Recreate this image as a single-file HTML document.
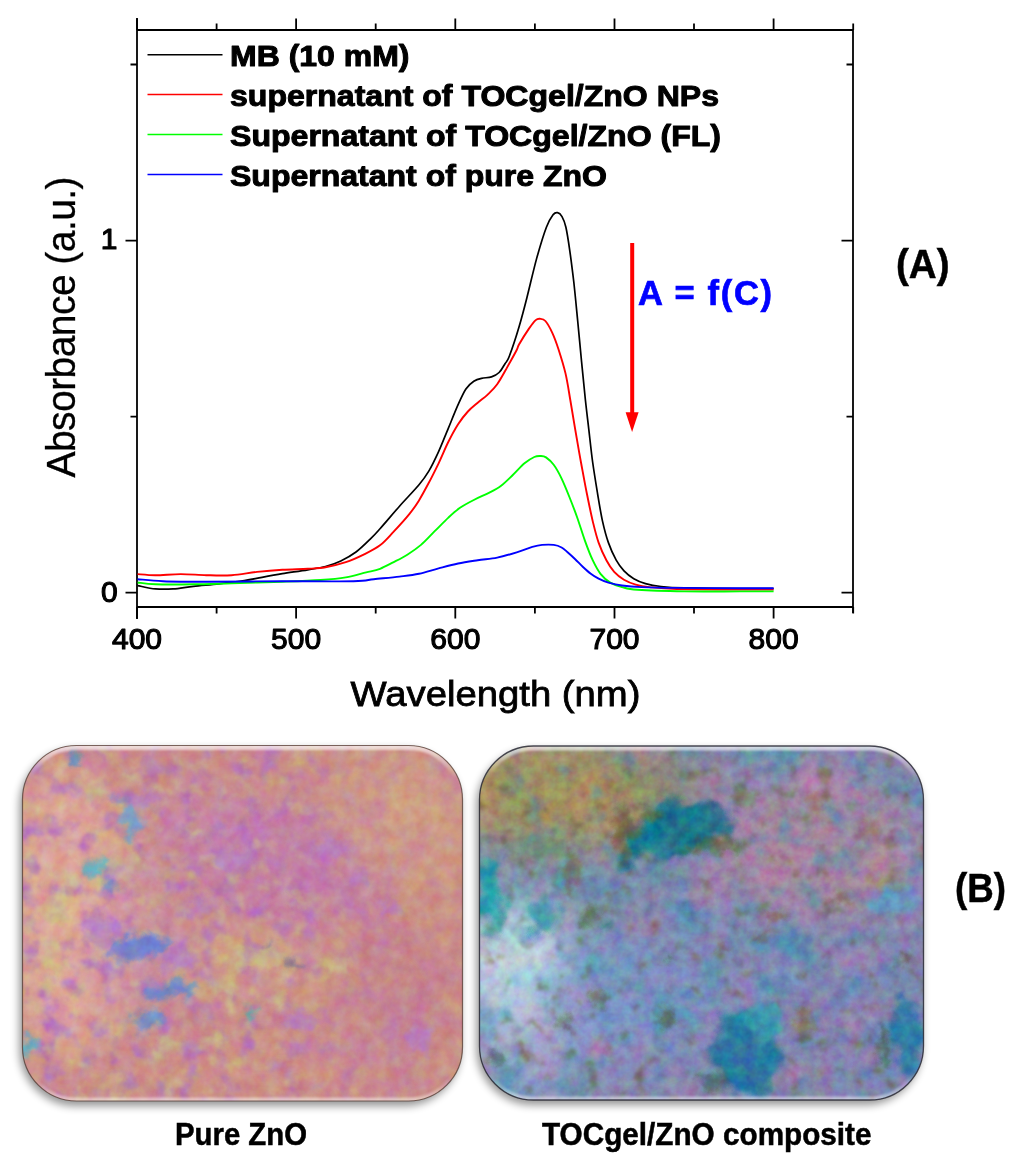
<!DOCTYPE html>
<html><head><meta charset="utf-8"><title>Figure</title>
<style>
html,body{margin:0;padding:0;background:#fff}
body{width:1024px;height:1170px;overflow:hidden}
svg{display:block}
text{font-family:"Liberation Sans",sans-serif;fill:#000}
.tick text{font-size:30px;stroke:#000;stroke-width:1.15px;stroke-linejoin:round}
.leg text{font-size:29.8px;font-weight:bold;stroke:#000;stroke-width:1px;stroke-linejoin:round}
.cap text{font-weight:bold;stroke:#000;stroke-width:.5px}
</style></head><body>
<svg width="1024" height="1170" viewBox="0 0 1024 1170">
<defs>

<clipPath id="cl"><rect x="22.5" y="745.5" width="440" height="355.5" rx="54"/></clipPath>
<clipPath id="cr"><rect x="479.5" y="746" width="444" height="354" rx="54"/></clipPath>
<filter id="sh" x="-10%" y="-10%" width="120%" height="125%"><feGaussianBlur stdDeviation="4"/></filter>
<filter id="b25" x="-30%" y="-30%" width="160%" height="160%"><feGaussianBlur stdDeviation="22"/></filter>
<filter id="b3" x="-5%" y="-5%" width="110%" height="110%"><feGaussianBlur stdDeviation="1.3"/></filter>
<filter id="rag" x="-10%" y="-10%" width="120%" height="120%" color-interpolation-filters="sRGB">
<feGaussianBlur stdDeviation="4" result="bl"/>
<feTurbulence type="fractalNoise" baseFrequency="0.035" numOctaves="3" seed="4" result="t"/>
<feDisplacementMap in="bl" in2="t" scale="34" xChannelSelector="R" yChannelSelector="G"/>
</filter>
<filter id="rag2" x="-10%" y="-10%" width="120%" height="120%" color-interpolation-filters="sRGB">
<feGaussianBlur stdDeviation="3.2" result="bl"/>
<feTurbulence type="fractalNoise" baseFrequency="0.06" numOctaves="3" seed="9" result="t"/>
<feDisplacementMap in="bl" in2="t" scale="22" xChannelSelector="G" yChannelSelector="B"/>
</filter>
<filter id="pf" x="0" y="0" width="100%" height="100%" color-interpolation-filters="sRGB">
<feTurbulence type="fractalNoise" baseFrequency="0.05" numOctaves="3" seed="3"/>
<feColorMatrix type="matrix" values="0 0 0 0 .68  0 0 0 0 .44  0 0 0 0 .76  4 0 0 0 -2.05"/>
<feGaussianBlur stdDeviation="1.3"/>
</filter>
<filter id="yf" x="0" y="0" width="100%" height="100%" color-interpolation-filters="sRGB">
<feTurbulence type="fractalNoise" baseFrequency="0.055" numOctaves="3" seed="14"/>
<feColorMatrix type="matrix" values="0 0 0 0 .80  0 0 0 0 .76  0 0 0 0 .54  0 4 0 0 -2.25"/>
<feGaussianBlur stdDeviation="1.3"/>
</filter>
<linearGradient id="mlg" x1="0" y1="0" x2="1" y2="0"><stop offset="0" stop-color="#fff"/><stop offset=".5" stop-color="#fff"/><stop offset=".8" stop-color="#444"/><stop offset="1" stop-color="#222"/></linearGradient>
<mask id="ml" maskUnits="userSpaceOnUse" x="10" y="736" width="465" height="375"><rect x="10" y="736" width="465" height="375" fill="url(#mlg)"/></mask>
<filter id="tf" x="0" y="0" width="100%" height="100%" color-interpolation-filters="sRGB">
<feTurbulence type="fractalNoise" baseFrequency="0.04" numOctaves="3" seed="41"/>
<feColorMatrix type="matrix" values="0 0 0 0 .25  0 0 0 0 .55  0 0 0 0 .68  4 0 0 0 -2.15"/>
<feGaussianBlur stdDeviation="1.6"/>
</filter>
<filter id="of" x="0" y="0" width="100%" height="100%" color-interpolation-filters="sRGB">
<feTurbulence type="fractalNoise" baseFrequency="0.06" numOctaves="3" seed="52"/>
<feColorMatrix type="matrix" values="0 0 0 0 .42  0 0 0 0 .40  0 0 0 0 .27  0 5 0 0 -3.0"/>
<feGaussianBlur stdDeviation="1.4"/>
</filter>
<filter id="texl" x="0" y="0" width="100%" height="100%" color-interpolation-filters="sRGB">
<feTurbulence type="fractalNoise" baseFrequency="0.075" numOctaves="3" seed="7" result="n"/>
<feColorMatrix in="n" type="matrix" values=".35 0 0 0 .325  0 1 0 0 0  0 0 1 0 0  0 0 0 0 1" result="n2"/>
<feComposite in="SourceGraphic" in2="n2" operator="arithmetic" k1="0" k2="1" k3="0.2" k4="-0.1" result="c1"/>
<feTurbulence type="fractalNoise" baseFrequency="0.028" numOctaves="2" seed="21" result="m"/>
<feColorMatrix in="m" type="matrix" values=".3 0 0 0 .35  1 0 0 0 0  -1 0 0 0 1  0 0 0 0 1" result="m2"/>
<feComposite in="c1" in2="m2" operator="arithmetic" k1="0" k2="1" k3="0.12" k4="-0.06"/>
</filter>
<filter id="texr" x="0" y="0" width="100%" height="100%" color-interpolation-filters="sRGB">
<feTurbulence type="fractalNoise" baseFrequency="0.09" numOctaves="3" seed="11" result="n"/>
<feColorMatrix in="n" type="matrix" values=".4 0 0 0 .3  0 1 0 0 0  0 0 .7 0 .15  0 0 0 0 1" result="n2"/>
<feComposite in="SourceGraphic" in2="n2" operator="arithmetic" k1="0" k2="1" k3="0.26" k4="-0.13" result="c1"/>
<feTurbulence type="fractalNoise" baseFrequency="0.03" numOctaves="3" seed="33" result="m"/>
<feColorMatrix in="m" type="matrix" values="1 0 0 0 0  -.2 0 0 0 .6  0 .4 0 0 .3  0 0 0 0 1" result="m2"/>
<feComposite in="c1" in2="m2" operator="arithmetic" k1="0" k2="1" k3="0.26" k4="-0.13"/>
</filter>
<linearGradient id="bev" x1="0" y1="0" x2="0" y2="1">
<stop offset="0" stop-color="#fff" stop-opacity=".8"/><stop offset=".04" stop-color="#fff" stop-opacity="0"/>
<stop offset=".97" stop-color="#fff" stop-opacity="0"/><stop offset="1" stop-color="#fff" stop-opacity=".55"/>
</linearGradient>

</defs>
<rect width="1024" height="1170" fill="#fff"/>
<g fill="none" stroke="#000" stroke-width="1.8">
<path d="M137 18V619M137 607H853"/>
<path d="M137 30H853V613"/>
<path d="M137.0 607v11.5M137.0 30v-11.5M216.6 607v6.5M216.6 30v-6.5M296.1 607v11.5M296.1 30v-11.5M375.7 607v6.5M375.7 30v-6.5M455.3 607v11.5M455.3 30v-11.5M534.9 607v6.5M534.9 30v-6.5M614.5 607v11.5M614.5 30v-11.5M694.0 607v6.5M694.0 30v-6.5M773.6 607v11.5M773.6 30v-11.5M853.2 607v6.5M853.2 30v-6.5M137 592.7h-11.5M853 592.7h-11.5M137 416.7h-6.5M853 416.7h-6.5M137 240.6h-11.5M853 240.6h-11.5M137 64.5h-6.5M853 64.5h-6.5"/>
</g>
<g fill="none" stroke-width="1.9" stroke-linejoin="round">
<path d="M137.6 585.6C140.6 586.1 149.5 588.4 155.4 588.9C161.3 589.4 166.8 589.3 173.2 588.9C179.5 588.5 185.9 587.1 193.5 586.3C201.1 585.4 210.4 584.8 218.9 583.8C227.4 582.8 237.1 581.6 244.3 580.5C251.5 579.4 255.7 578.4 262.0 577.3C268.4 576.1 274.8 574.9 282.4 573.6C290.0 572.4 300.6 571.0 307.8 569.8C314.9 568.6 320.0 568.0 325.5 566.5C331.0 565.0 335.7 563.3 340.8 560.9C345.9 558.5 350.9 555.8 356.0 552.0C361.1 548.2 367.2 542.0 371.2 538.1C375.2 534.2 375.3 534.0 380.0 528.7C384.7 523.4 393.0 513.6 399.5 506.2C406.0 498.9 414.1 490.7 419.0 484.8C423.9 478.9 425.5 476.6 428.8 471.1C432.1 465.6 435.3 458.8 438.6 451.6C441.9 444.4 445.1 435.9 448.4 428.1C451.6 420.3 455.2 411.2 458.1 404.7C461.0 398.2 463.3 392.9 465.9 389.0C468.5 385.1 471.1 383.0 473.8 381.2C476.4 379.5 478.6 379.0 481.6 378.3C484.6 377.6 488.6 377.9 491.5 376.9C494.4 375.9 496.9 374.7 499.1 372.5C501.4 370.3 503.3 366.4 505.0 363.7C506.7 361.0 507.0 362.4 509.3 356.3C511.6 350.2 516.1 336.8 519.0 327.0C521.9 317.2 524.0 309.1 526.9 297.7C529.8 286.3 533.4 270.3 536.6 258.6C539.9 246.9 543.6 234.6 546.4 227.3C549.2 220.0 551.4 217.0 553.2 214.6C555.1 212.2 556.0 212.4 557.5 212.7C559.0 213.0 560.6 214.2 562.0 216.6C563.4 219.0 564.6 221.6 565.9 227.3C567.2 233.0 568.5 241.7 569.8 250.8C571.1 259.9 572.4 270.3 573.8 282.0C575.1 293.7 576.4 307.7 577.7 321.0C579.0 334.3 580.3 348.8 581.6 362.0C582.9 375.2 584.2 388.8 585.4 400.0C586.6 411.2 587.6 418.9 588.8 429.3C590.0 439.7 591.2 451.8 592.7 462.5C594.2 473.2 596.0 484.0 597.6 493.8C599.2 503.5 600.7 513.0 602.5 521.1C604.3 529.2 606.1 536.1 608.4 542.6C610.7 549.1 613.6 555.5 616.2 560.2C618.8 564.9 621.1 567.8 624.0 570.9C626.9 574.0 630.2 576.6 633.8 578.7C637.3 580.8 641.0 582.3 645.5 583.6C650.0 584.9 654.5 585.8 661.0 586.5C667.5 587.2 671.3 587.6 684.5 587.9C697.7 588.2 725.1 588.4 740.0 588.5C754.9 588.6 768.0 588.5 773.6 588.5" stroke="#000" stroke-width="1.7"/>
<path d="M137.6 574.1C140.6 574.3 148.2 575.2 155.4 575.2C162.6 575.2 172.3 574.1 180.8 574.1C189.3 574.1 197.7 575.0 206.2 575.2C214.7 575.4 223.1 575.8 231.6 575.2C240.1 574.7 248.5 572.8 257.0 571.9C265.5 571.0 273.9 570.3 282.4 569.8C290.9 569.3 300.6 569.2 307.8 568.8C314.9 568.4 319.2 568.4 325.5 567.3C331.8 566.2 339.4 564.3 345.8 562.2C352.2 560.1 357.9 557.4 363.6 554.6C369.3 551.8 375.0 549.1 380.0 545.3C385.0 541.5 388.8 536.8 393.7 531.6C398.6 526.4 405.1 519.3 409.3 514.1C413.5 508.9 415.8 505.6 419.0 500.4C422.2 495.2 425.5 489.0 428.8 482.8C432.1 476.6 435.3 470.1 438.6 463.3C441.9 456.5 445.1 448.3 448.4 441.8C451.6 435.3 454.9 429.2 458.1 424.2C461.4 419.1 464.6 415.1 467.9 411.5C471.2 407.9 474.4 405.5 477.7 402.7C480.9 399.9 484.1 398.0 487.4 394.9C490.6 391.8 493.9 388.8 497.2 384.2C500.5 379.6 503.8 373.3 507.0 367.6C510.2 361.9 514.7 353.9 516.7 350.0C518.7 346.1 517.0 348.0 519.0 344.5C521.0 341.0 526.0 333.0 528.8 328.9C531.6 324.8 533.8 321.8 535.7 320.1C537.6 318.4 538.6 318.6 540.2 318.8C541.8 318.9 543.4 318.7 545.4 321.0C547.4 323.3 550.1 328.1 552.3 332.8C554.5 337.5 556.2 342.2 558.4 349.0C560.6 355.8 563.5 364.9 565.5 373.4C567.5 381.9 568.7 390.7 570.3 400.0C571.9 409.3 573.4 418.9 575.2 429.3C577.0 439.7 579.0 451.8 581.0 462.5C583.0 473.2 584.9 484.0 586.9 493.8C588.9 503.5 590.8 513.0 592.7 521.1C594.7 529.2 596.3 536.1 598.6 542.6C600.9 549.1 603.8 555.3 606.4 560.2C609.0 565.1 611.3 568.6 614.2 571.9C617.1 575.1 620.4 577.6 624.0 579.7C627.6 581.8 631.5 583.4 635.7 584.6C639.9 585.8 642.6 586.4 649.4 587.1C656.2 587.8 661.6 588.6 676.7 589.0C691.8 589.4 723.9 589.4 740.0 589.5C756.1 589.6 768.0 589.5 773.6 589.5" stroke="#f00"/>
<path d="M137.6 582.5C140.6 582.8 146.1 584.0 155.4 584.3C164.7 584.6 180.8 584.5 193.5 584.3C206.2 584.1 216.8 583.7 231.6 583.3C246.3 582.9 267.2 582.3 282.0 581.8C296.8 581.2 309.9 580.7 320.5 580.0C331.1 579.3 338.2 578.7 345.8 577.4C353.4 576.1 360.5 573.8 366.2 572.4C371.9 571.0 375.4 570.5 380.0 568.8C384.6 567.0 389.1 564.4 393.7 562.1C398.2 559.8 402.8 557.6 407.3 554.7C411.9 551.8 416.4 548.8 421.0 544.9C425.6 541.0 430.1 535.8 434.7 531.2C439.3 526.7 444.2 521.5 448.4 517.6C452.6 513.7 455.8 510.7 460.0 507.8C464.2 504.9 468.9 502.5 473.8 500.0C478.6 497.5 484.8 495.0 489.4 492.6C494.0 490.2 497.2 488.6 501.1 485.7C505.0 482.8 508.9 478.7 512.8 475.0C516.7 471.3 520.9 466.3 524.5 463.3C528.1 460.3 531.7 458.2 534.3 457.0C536.9 455.8 538.2 455.9 540.2 456.0C542.2 456.1 543.8 455.9 546.0 457.4C548.2 458.9 551.1 461.3 553.7 464.8C556.3 468.3 558.9 473.0 561.5 478.4C564.1 483.8 566.8 490.5 569.4 497.0C572.0 503.5 574.5 509.9 577.1 517.2C579.7 524.5 582.3 533.4 584.9 540.6C587.5 547.8 590.1 554.7 592.7 560.2C595.3 565.7 597.6 570.1 600.5 573.8C603.4 577.5 606.7 580.4 610.3 582.6C613.9 584.8 617.4 585.9 622.0 587.1C626.6 588.3 627.3 589.1 637.7 589.8C648.1 590.5 667.5 591.1 684.5 591.4C701.5 591.7 725.1 591.4 740.0 591.4C754.9 591.4 768.0 591.4 773.6 591.4" stroke="#0f0"/>
<path d="M137.6 579.2C141.8 579.5 151.6 580.8 163.0 581.2C174.4 581.7 186.2 581.8 206.0 581.8C225.8 581.8 257.4 581.3 282.0 581.2C306.6 581.2 338.2 581.6 353.5 581.2C368.8 580.9 366.1 580.0 373.8 579.2C381.5 578.4 392.0 577.5 399.5 576.6C407.0 575.7 412.5 575.2 419.0 573.8C425.5 572.4 432.1 570.1 438.6 568.4C445.1 566.7 451.6 564.9 458.1 563.5C464.6 562.1 471.2 561.2 477.7 560.2C484.2 559.2 490.7 558.9 497.2 557.6C503.7 556.3 510.9 554.1 516.7 552.3C522.6 550.5 528.1 548.1 532.3 546.9C536.5 545.7 538.5 545.2 542.1 544.9C545.7 544.6 550.5 544.5 553.8 544.9C557.0 545.3 559.4 546.3 561.6 547.5C563.9 548.7 565.0 550.0 567.3 552.0C569.6 554.0 572.6 556.7 575.2 559.2C577.8 561.7 580.4 564.6 583.0 567.0C585.6 569.4 588.2 571.8 590.8 573.8C593.4 575.8 595.7 577.2 598.6 578.7C601.5 580.2 604.5 581.5 608.4 582.6C612.3 583.7 616.5 584.8 622.0 585.5C627.5 586.2 632.5 586.7 641.6 587.1C650.7 587.5 660.3 587.7 676.7 587.9C693.1 588.1 723.9 588.2 740.0 588.2C756.1 588.2 768.0 588.2 773.6 588.2" stroke="#00f"/>
</g>
<g class="tick"><text x="137.0" y="648.5" text-anchor="middle">400</text><text x="296.1" y="648.5" text-anchor="middle">500</text><text x="455.3" y="648.5" text-anchor="middle">600</text><text x="614.5" y="648.5" text-anchor="middle">700</text><text x="773.6" y="648.5" text-anchor="middle">800</text>
<text x="117.5" y="248.7" text-anchor="end">1</text>
<text x="117.8" y="601.5" text-anchor="end">0</text>
</g>
<g class="leg"><path d="M147.5 54.7H222.5" stroke="#000" stroke-width="1.6"/><text x="230" y="65.8" textLength="179.5" lengthAdjust="spacingAndGlyphs">MB (10 mM)</text><path d="M147.5 94.5H222.5" stroke="#f00" stroke-width="1.6"/><text x="230" y="105.8" textLength="489" lengthAdjust="spacingAndGlyphs">supernatant of TOCgel/ZnO NPs</text><path d="M147.5 134.5H222.5" stroke="#0f0" stroke-width="1.6"/><text x="230" y="145.8" textLength="491" lengthAdjust="spacingAndGlyphs">Supernatant of TOCgel/ZnO (FL)</text><path d="M147.5 174.5H222.5" stroke="#00f" stroke-width="1.6"/><text x="230" y="185.6" textLength="377" lengthAdjust="spacingAndGlyphs">Supernatant of pure ZnO</text></g>
<text x="350.5" y="706" font-size="35.5" textLength="290" lengthAdjust="spacingAndGlyphs" stroke="#000" stroke-width=".8">Wavelength (nm)</text>
<text transform="translate(75 477.5) rotate(-90)" font-size="40.5" letter-spacing="-.6" textLength="300.5" lengthAdjust="spacingAndGlyphs" stroke="#000" stroke-width=".3">Absorbance (a.u.)</text>
<path d="M632.2 243V415" stroke="#f00" stroke-width="4" fill="none"/>
<path d="M625.6 412.3H638.6L632.1 432Z" fill="#f00"/>
<text x="638" y="304.8" font-size="34.5" font-weight="bold" textLength="134" lengthAdjust="spacing" style="fill:#00f;stroke:#00f;stroke-width:.7px">A = f(C)</text>
<g class="cap">
<text x="896" y="277.8" font-size="40.5" textLength="53.5" lengthAdjust="spacingAndGlyphs">(A)</text>
<text x="955" y="902" font-size="40.5" textLength="51" lengthAdjust="spacingAndGlyphs">(B)</text>
<text x="175" y="1145.2" font-size="31" textLength="132" lengthAdjust="spacingAndGlyphs">Pure ZnO</text>
<text x="542" y="1144.5" font-size="31" textLength="329.5" lengthAdjust="spacingAndGlyphs">TOCgel/ZnO composite</text>
</g>
<rect x="19.5" y="749.5" width="441" height="356.5" rx="56" fill="#000" opacity=".42" filter="url(#sh)"/><g clip-path="url(#cl)"><g filter="url(#texl)"><rect x="10" y="736" width="465" height="375" fill="#cb8f89"/><g filter="url(#b25)"><ellipse cx="280" cy="862" rx="100" ry="55" fill="#c27ca8" opacity="0.9" transform="rotate(22 280 862)"/><ellipse cx="200" cy="830" rx="60" ry="40" fill="#c484ac" opacity="0.6"/><ellipse cx="400" cy="1000" rx="50" ry="70" fill="#c4808c" opacity="0.8"/><ellipse cx="390" cy="1030" rx="30" ry="40" fill="#c080b0" opacity="0.5"/><ellipse cx="260" cy="1065" rx="120" ry="30" fill="#cf8e88" opacity="0.7"/><ellipse cx="130" cy="950" rx="60" ry="80" fill="#c48cb0" opacity="0.55"/><ellipse cx="65" cy="910" rx="60" ry="150" fill="#e0aa9a" opacity="0.85"/><ellipse cx="410" cy="810" rx="70" ry="65" fill="#cf9c88" opacity="0.95"/><ellipse cx="250" cy="960" rx="70" ry="30" fill="#d4a890" opacity="0.5"/></g><g mask="url(#ml)"><rect x="10" y="736" width="465" height="375" fill="#888" filter="url(#pf)" opacity=".7"/><rect x="10" y="736" width="465" height="375" fill="#888" filter="url(#yf)" opacity=".55"/></g><g filter="url(#rag2)"><ellipse cx="58" cy="905" rx="14" ry="18" fill="#c4c088" opacity="0.55"/><ellipse cx="70" cy="880" rx="10" ry="8" fill="#c4c088" opacity="0.55"/><ellipse cx="118" cy="866" rx="22" ry="9" fill="#c4c088" opacity="0.55"/><ellipse cx="255" cy="958" rx="30" ry="9" fill="#c4c088" opacity="0.55"/><ellipse cx="330" cy="966" rx="20" ry="7" fill="#c4c088" opacity="0.55"/><ellipse cx="165" cy="1046" rx="11" ry="9" fill="#c4c088" opacity="0.55"/><ellipse cx="225" cy="985" rx="14" ry="8" fill="#c4c088" opacity="0.55"/><ellipse cx="50" cy="960" rx="10" ry="14" fill="#c4c088" opacity="0.55"/><ellipse cx="95" cy="790" rx="14" ry="8" fill="#c4c088" opacity="0.55"/><ellipse cx="300" cy="900" rx="10" ry="6" fill="#c4c088" opacity="0.55"/><ellipse cx="215" cy="1040" rx="12" ry="8" fill="#c4c088" opacity="0.55"/><ellipse cx="275" cy="1000" rx="9" ry="7" fill="#c4c088" opacity="0.55"/><ellipse cx="140" cy="800" rx="16" ry="10" fill="#b47cc4" opacity="0.7"/><ellipse cx="230" cy="860" rx="18" ry="10" fill="#b47cc4" opacity="0.7"/><ellipse cx="330" cy="850" rx="16" ry="9" fill="#b47cc4" opacity="0.7"/><ellipse cx="200" cy="905" rx="14" ry="10" fill="#b47cc4" opacity="0.7"/><ellipse cx="390" cy="910" rx="10" ry="8" fill="#b47cc4" opacity="0.7"/><ellipse cx="100" cy="930" rx="16" ry="20" fill="#b47cc4" opacity="0.7"/><ellipse cx="180" cy="960" rx="16" ry="10" fill="#b47cc4" opacity="0.7"/><ellipse cx="300" cy="1020" rx="14" ry="8" fill="#b47cc4" opacity="0.7"/><ellipse cx="420" cy="1040" rx="12" ry="14" fill="#b47cc4" opacity="0.7"/><ellipse cx="360" cy="880" rx="14" ry="8" fill="#b47cc4" opacity="0.7"/><ellipse cx="140" cy="946" rx="30" ry="12" fill="#6c86cc" opacity="0.95" transform="rotate(-6 140 946)"/><ellipse cx="120" cy="955" rx="14" ry="8" fill="#8a84c8" opacity="0.8"/><ellipse cx="168" cy="991" rx="28" ry="7" fill="#6888cc" opacity="0.95" transform="rotate(-12 168 991)"/><ellipse cx="148" cy="1020" rx="17" ry="9" fill="#6c88cc" opacity="0.9" transform="rotate(-10 148 1020)"/><ellipse cx="130" cy="822" rx="9" ry="15" fill="#6c9cd0" opacity="0.85"/><ellipse cx="120" cy="800" rx="8" ry="7" fill="#8888c8" opacity="0.7"/><ellipse cx="95" cy="868" rx="13" ry="7" fill="#58b8c0" opacity="0.9" transform="rotate(15 95 868)"/><ellipse cx="110" cy="885" rx="7" ry="5" fill="#6090c8" opacity="0.8"/><ellipse cx="26" cy="1046" rx="6" ry="12" fill="#50b0d0" opacity="0.9"/><ellipse cx="76" cy="760" rx="5" ry="6" fill="#4890c0" opacity="0.9"/><ellipse cx="248" cy="1014" rx="4" ry="7" fill="#40b8b0" opacity="0.9"/><ellipse cx="292" cy="963" rx="12" ry="4" fill="#707898" opacity="0.8" transform="rotate(25 292 963)"/><ellipse cx="270" cy="945" rx="6" ry="4" fill="#8070a0" opacity="0.7"/></g></g><linearGradient id="glt" gradientUnits="userSpaceOnUse" x1="0" y1="745.5" x2="0" y2="777.9"><stop offset="0" stop-color="#fff" stop-opacity=".7"/><stop offset="1" stop-color="#fff" stop-opacity="0"/></linearGradient><linearGradient id="glb" gradientUnits="userSpaceOnUse" x1="0" y1="1101.0" x2="0" y2="1074.0"><stop offset="0" stop-color="#fff" stop-opacity=".5"/><stop offset="1" stop-color="#fff" stop-opacity="0"/></linearGradient><g fill="none" filter="url(#b3)"><path d="M22.5 799.5A54 54 0 0 1 76.5 745.5H408.5A54 54 0 0 1 462.5 799.5" stroke="url(#glt)" stroke-width="9"/><path d="M22.5 1047.0A54 54 0 0 0 76.5 1101.0H408.5A54 54 0 0 0 462.5 1047.0" stroke="url(#glb)" stroke-width="7"/></g></g><rect x="22.5" y="745.5" width="440" height="355.5" rx="54" fill="none" stroke="#4a3028" stroke-opacity=".7" stroke-width="1.2"/><rect x="476.5" y="750" width="445" height="355" rx="56" fill="#000" opacity=".42" filter="url(#sh)"/><g clip-path="url(#cr)"><g filter="url(#texr)"><rect x="470" y="736" width="465" height="375" fill="#8587b0"/><g filter="url(#b25)"><ellipse cx="560" cy="792" rx="125" ry="58" fill="#a49260" opacity="1"/><ellipse cx="520" cy="780" rx="60" ry="50" fill="#a09260" opacity="0.8"/><ellipse cx="650" cy="780" rx="60" ry="30" fill="#90866e" opacity="0.6"/><ellipse cx="815" cy="845" rx="105" ry="75" fill="#a6869f" opacity="0.95"/><ellipse cx="518" cy="968" rx="56" ry="70" fill="#bdd1de" opacity="1"/><ellipse cx="525" cy="1060" rx="55" ry="40" fill="#a0a8cc" opacity="0.7"/><ellipse cx="630" cy="1000" rx="90" ry="60" fill="#8494c8" opacity="0.85"/><ellipse cx="840" cy="1020" rx="55" ry="55" fill="#8c80b4" opacity="0.7"/><ellipse cx="600" cy="890" rx="70" ry="35" fill="#6c90a8" opacity="0.6"/><ellipse cx="740" cy="950" rx="90" ry="40" fill="#7a8cb8" opacity="0.6"/></g><rect x="470" y="736" width="465" height="375" fill="#888" filter="url(#tf)" opacity=".45"/><rect x="470" y="736" width="465" height="375" fill="#888" filter="url(#of)" opacity=".6"/><g filter="url(#rag)"><ellipse cx="682" cy="830" rx="52" ry="24" fill="#187088" opacity="1" transform="rotate(-16 682 830)"/><ellipse cx="700" cy="822" rx="30" ry="14" fill="#1c7890" opacity="1"/><ellipse cx="655" cy="845" rx="20" ry="10" fill="#2a8098" opacity="0.9"/><ellipse cx="638" cy="846" rx="30" ry="11" fill="#1c7890" opacity="1" transform="rotate(-38 638 846)"/><ellipse cx="545" cy="920" rx="14" ry="12" fill="#50a8c0" opacity="0.8"/><ellipse cx="542" cy="852" rx="34" ry="10" fill="#6c8c6c" opacity="0.7" transform="rotate(5 542 852)"/><ellipse cx="490" cy="888" rx="12" ry="30" fill="#18a0a8" opacity="1"/><ellipse cx="492" cy="925" rx="8" ry="14" fill="#30a098" opacity="0.9"/><ellipse cx="546" cy="915" rx="15" ry="18" fill="#3a9cac" opacity="0.9"/><ellipse cx="560" cy="880" rx="12" ry="10" fill="#4aa0b0" opacity="0.7"/><ellipse cx="748" cy="1055" rx="40" ry="40" fill="#2878a0" opacity="1" transform="rotate(-20 748 1055)"/><ellipse cx="765" cy="1020" rx="16" ry="18" fill="#38a0b0" opacity="0.9"/><ellipse cx="905" cy="1038" rx="18" ry="34" fill="#2c7ca4" opacity="1"/><ellipse cx="790" cy="945" rx="32" ry="12" fill="#4c8eb4" opacity="0.85" transform="rotate(12 790 945)"/><ellipse cx="900" cy="898" rx="24" ry="14" fill="#6098c4" opacity="0.8"/><ellipse cx="780" cy="757" rx="36" ry="9" fill="#5898b0" opacity="0.75"/><ellipse cx="610" cy="962" rx="28" ry="16" fill="#5c9cb8" opacity="0.7"/><ellipse cx="675" cy="1005" rx="28" ry="12" fill="#5890b8" opacity="0.7" transform="rotate(35 675 1005)"/><ellipse cx="705" cy="920" rx="20" ry="10" fill="#6090b8" opacity="0.6"/><ellipse cx="500" cy="1075" rx="14" ry="12" fill="#5898b0" opacity="0.7"/></g><g filter="url(#rag2)"><ellipse cx="628" cy="831" rx="14" ry="12" fill="#505c38" opacity="0.6"/><ellipse cx="622" cy="832" rx="8" ry="34" fill="#6a6040" opacity="0.6"/><ellipse cx="606" cy="927" rx="5" ry="5" fill="#108878" opacity="0.6"/><ellipse cx="668" cy="958" rx="5" ry="6" fill="#44584c" opacity="0.6"/><ellipse cx="668" cy="1022" rx="5" ry="9" fill="#4c5448" opacity="0.6"/><ellipse cx="570" cy="1022" rx="5" ry="6" fill="#586050" opacity="0.6"/><ellipse cx="712" cy="846" rx="30" ry="8" fill="#5c6438" opacity="0.6"/><ellipse cx="650" cy="815" rx="10" ry="8" fill="#60683c" opacity="0.6"/><ellipse cx="572" cy="872" rx="9" ry="22" fill="#7a6848" opacity="0.6"/><ellipse cx="590" cy="917" rx="10" ry="7" fill="#586c40" opacity="0.6"/><ellipse cx="777" cy="917" rx="12" ry="8" fill="#806050" opacity="0.6"/><ellipse cx="804" cy="1026" rx="10" ry="14" fill="#786840" opacity="0.6"/><ellipse cx="666" cy="1015" rx="6" ry="10" fill="#6c6848" opacity="0.6"/><ellipse cx="724" cy="949" rx="8" ry="8" fill="#806458" opacity="0.6"/><ellipse cx="885" cy="1046" rx="6" ry="22" fill="#4c5844" opacity="0.6"/><ellipse cx="715" cy="1080" rx="12" ry="10" fill="#4c5c54" opacity="0.6"/><ellipse cx="870" cy="830" rx="14" ry="8" fill="#947868" opacity="0.6"/><ellipse cx="885" cy="880" rx="18" ry="8" fill="#948c60" opacity="0.6"/><ellipse cx="745" cy="800" rx="14" ry="10" fill="#787c58" opacity="0.6"/><ellipse cx="600" cy="1000" rx="7" ry="7" fill="#5c6848" opacity="0.6"/><ellipse cx="560" cy="1020" rx="6" ry="6" fill="#606850" opacity="0.6"/><ellipse cx="905" cy="960" rx="8" ry="6" fill="#5c6048" opacity="0.6"/><ellipse cx="760" cy="935" rx="10" ry="6" fill="#7c6450" opacity="0.6"/><ellipse cx="815" cy="800" rx="10" ry="8" fill="#a07868" opacity="0.6"/><ellipse cx="840" cy="900" rx="10" ry="7" fill="#806858" opacity="0.6"/><ellipse cx="496" cy="1060" rx="6" ry="8" fill="#4c5c50" opacity="0.6"/><ellipse cx="760" cy="860" rx="18" ry="10" fill="#a884a8" opacity="0.5"/><ellipse cx="830" cy="830" rx="16" ry="9" fill="#a884a8" opacity="0.5"/><ellipse cx="700" cy="900" rx="14" ry="8" fill="#a884a8" opacity="0.5"/><ellipse cx="860" cy="960" rx="16" ry="10" fill="#a884a8" opacity="0.5"/><ellipse cx="800" cy="1070" rx="14" ry="8" fill="#a884a8" opacity="0.5"/><ellipse cx="640" cy="930" rx="12" ry="8" fill="#a884a8" opacity="0.5"/><ellipse cx="600" cy="1050" rx="14" ry="8" fill="#a884a8" opacity="0.5"/></g></g><linearGradient id="grt" gradientUnits="userSpaceOnUse" x1="0" y1="746" x2="0" y2="778.4"><stop offset="0" stop-color="#fff" stop-opacity=".7"/><stop offset="1" stop-color="#fff" stop-opacity="0"/></linearGradient><linearGradient id="grb" gradientUnits="userSpaceOnUse" x1="0" y1="1100" x2="0" y2="1073.0"><stop offset="0" stop-color="#fff" stop-opacity=".5"/><stop offset="1" stop-color="#fff" stop-opacity="0"/></linearGradient><g fill="none" filter="url(#b3)"><path d="M479.5 800A54 54 0 0 1 533.5 746H869.5A54 54 0 0 1 923.5 800" stroke="url(#grt)" stroke-width="9"/><path d="M479.5 1046A54 54 0 0 0 533.5 1100H869.5A54 54 0 0 0 923.5 1046" stroke="url(#grb)" stroke-width="7"/></g></g><rect x="479.5" y="746" width="444" height="354" rx="54" fill="none" stroke="#20202c" stroke-opacity=".8" stroke-width="1.3"/>
</svg>
</body></html>
